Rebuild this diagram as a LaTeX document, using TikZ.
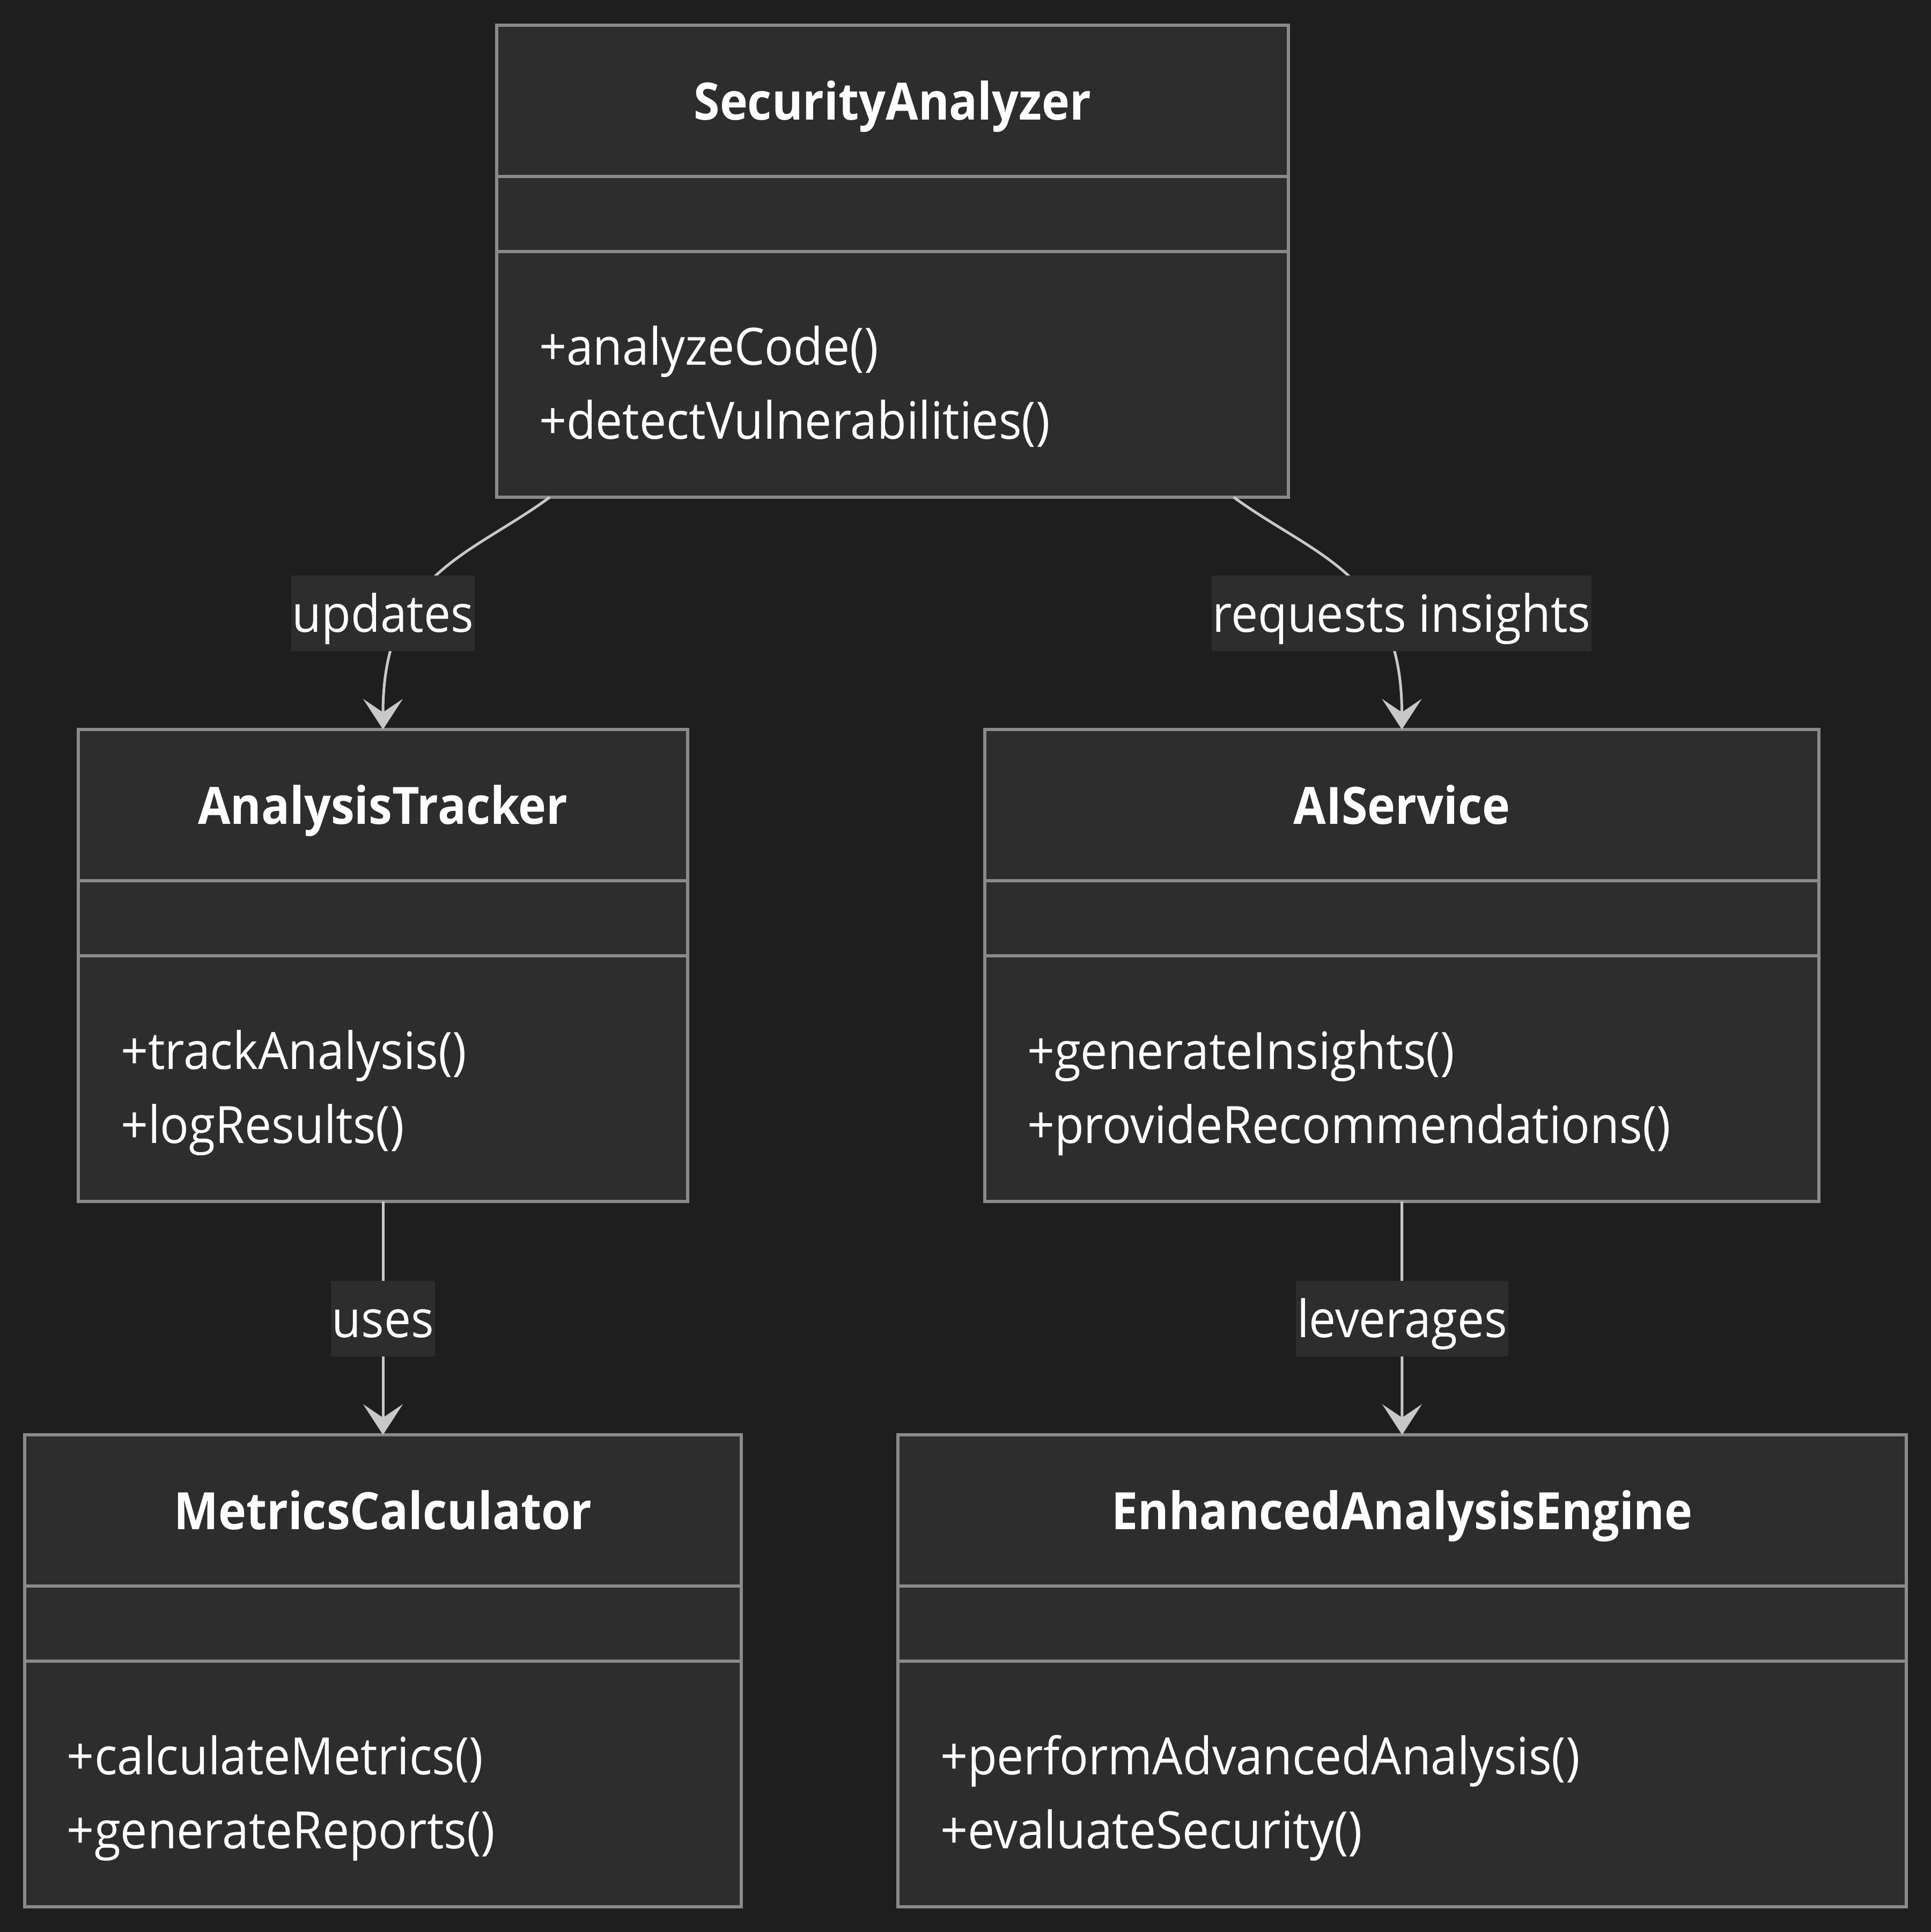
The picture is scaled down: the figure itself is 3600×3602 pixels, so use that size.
\documentclass[tikz,border=0pt]{standalone}
\usepackage{fontspec}
\setmainfont{Open Sans}[FakeStretch=0.93, BoldFeatures={FakeStretch=0.915}]
\usetikzlibrary{arrows.meta,fit}

\definecolor{bgc}{HTML}{1E1E1E}
\definecolor{boxfill}{HTML}{2D2D2D}
\definecolor{boxline}{HTML}{8A8A8A}
\definecolor{edgec}{HTML}{C8C8C8}

\tikzset{
  classbox/.style={draw=boxline, fill=boxfill, line width=0.6pt, inner sep=0pt, outer sep=0pt},
  divider/.style={draw=boxline, line width=0.6pt},
  classtitle/.style={text=white, inner sep=0pt, anchor=base,
    font=\fontsize{9.6pt}{11pt}\selectfont\bfseries},
  method/.style={text=white, inner sep=0pt, anchor=base west,
    font=\fontsize{9.6pt}{11pt}\selectfont},
  conn/.style={draw=edgec, line width=0.5pt,
    -{Stealth[length=5.7pt,width=7.4pt,inset=2.5pt]}},
  elabel/.style={fill=boxfill, text=white, inner xsep=0.2pt, inner ysep=0pt,
    text height=10.55pt, text depth=3.55pt,
    font=\fontsize{9.6pt}{11pt}\selectfont}
}

% class box: name, left, top, right, title, first method, second method
\newcommand\umlclass[7]{%
  \node[classbox, fit={(#2,#3) (#4,#3+880)}] (#1) {};
  \draw[divider] (#2,#3+282) -- (#4,#3+282);
  \draw[divider] (#2,#3+422) -- (#4,#3+422);
  \node[classtitle] (#1-title) at ({(#2+#4)/2},#3+176) {#5};
  \node[method] (#1-m1) at (#2+77,#3+633) {#6};
  \node[method] (#1-m2) at (#2+77,#3+771) {#7};
}

\begin{document}
\begin{tikzpicture}[x=0.1pt,y=-0.1pt]
  \fill[bgc] (0,0) rectangle (3600,3602);
  \useasboundingbox (0,0) rectangle (3600,3602);

  \umlclass{SA}{926}{47}{2402}{SecurityAnalyzer}{+analyzeCode()}{+detectVulnerabilities()}
  \umlclass{AT}{146}{1360}{1282}{AnalysisTracker}{+trackAnalysis()}{+logResults()}
  \umlclass{AIS}{1836}{1360}{3391}{AIService}{+generateInsights()}{+provideRecommendations()}
  \umlclass{MC}{46}{2675}{1382}{MetricsCalculator}{+calculateMetrics()}{+generateReports()}
  \umlclass{EAE}{1674}{2675}{3554}{EnhancedAnalysisEngine}{+performAdvancedAnalysis()}{+evaluateSecurity()}

  % relations
  \draw[conn] ([xshift=9.9pt]SA.south west) .. controls +(-150,110) and +(0,-290) .. (AT.north);
  \draw[conn] ([xshift=-10.2pt]SA.south east) .. controls +(150,110) and +(0,-290) .. (AIS.north);
  \draw[conn] (AT.south) -- (MC.north);
  \draw[conn] (AIS.south) -- (EAE.north);

  % relation labels
  \node[elabel] (l-updates) at (714,1143) {updates};
  \node[elabel] (l-requests) at (2613,1143) {requests insights};
  \node[elabel] (l-uses) at (714,2458) {uses};
  \node[elabel] (l-leverages) at (2614,2458) {leverages};
\end{tikzpicture}
\end{document}
